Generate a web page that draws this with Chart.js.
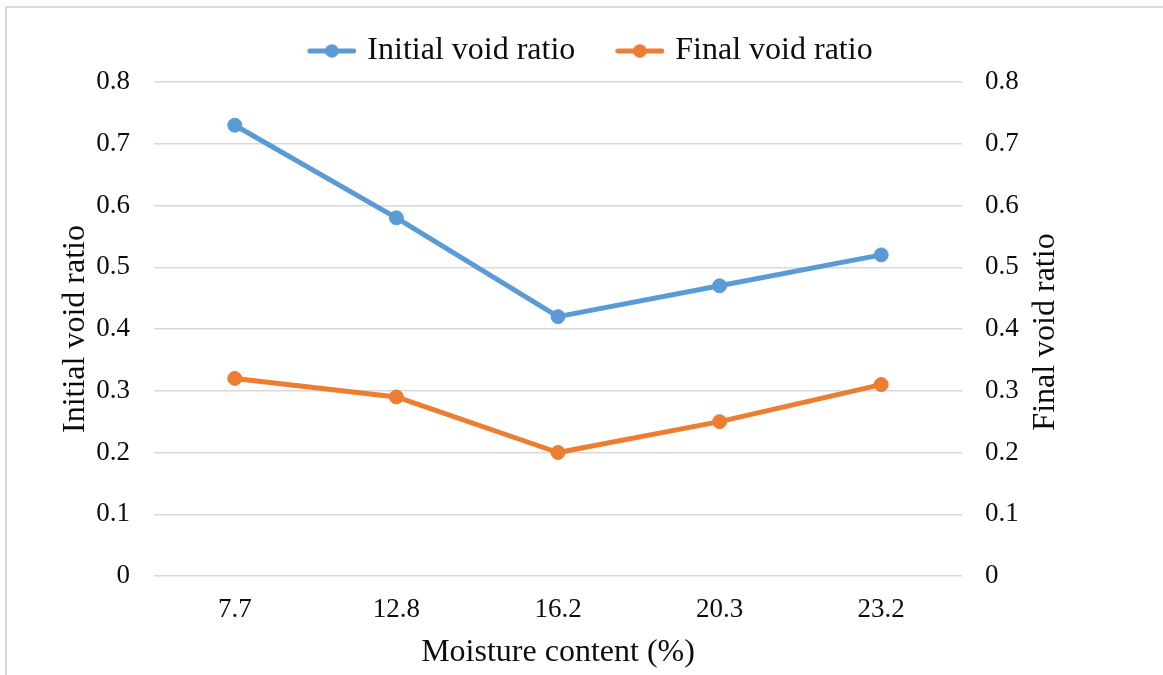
<!DOCTYPE html>
<html>
<head>
<meta charset="utf-8">
<script src="https://cdn.jsdelivr.net/npm/chart.js@4/dist/chart.umd.min.js"></script>
<style>
  html, body { margin: 0; padding: 0; background: #fff; overflow: hidden; }
  #frame { position: absolute; left: 5px; top: 6px; width: 1200px; height: 720px;
           border-left: 2px solid #d9d9d9; border-top: 2px solid #d9d9d9; }
  #wrap { position: absolute; left: 0; top: 0; width: 1163px; height: 675px; }
</style>
</head>
<body>
<div id="frame"></div>
<div id="wrap"><canvas id="chart" width="1163" height="675"></canvas></div>
<script>
// Moisture content categories (%)
const moistureContent = ['7.7', '12.8', '16.2', '20.3', '23.2'];
// Void ratios measured at each moisture content
const initialVoidRatio = [0.73, 0.58, 0.42, 0.47, 0.52];
const finalVoidRatio = [0.32, 0.29, 0.20, 0.25, 0.31];
// Labels shown on both value axes
const ratioTickLabels = ['0', '0.1', '0.2', '0.3', '0.4', '0.5', '0.6', '0.7', '0.8'];

const BLUE = '#5b9bd5';
const ORANGE = '#ed7d31';
const TEXT = '#0d0d0d';
const GRID = '#d9d9d9';
const SERIF = '"Liberation Serif", "Times New Roman", serif';

// Line-and-dot legend symbol
function legendMark(color) {
  const c = document.createElement('canvas');
  c.width = 94; c.height = 16;
  const g = c.getContext('2d');
  g.strokeStyle = color; g.fillStyle = color;
  g.lineWidth = 5; g.lineCap = 'round';
  g.beginPath(); g.moveTo(47.5, 8); g.lineTo(91.5, 8); g.stroke();
  g.beginPath(); g.arc(69.5, 8, 6.8, 0, Math.PI * 2); g.fill();
  return c;
}
const legendMarks = [legendMark(BLUE), legendMark(ORANGE)];

// Right-hand axis title, reading bottom to top
const rightAxisTitle = {
  id: 'rightAxisTitle',
  afterDraw(chart) {
    const s = chart.scales.y1;
    const area = chart.chartArea;
    const ctx = chart.ctx;
    ctx.save();
    ctx.translate(s.left + 84, (area.top + area.bottom) / 2 + 3);
    ctx.rotate(-Math.PI / 2);
    ctx.font = '32px ' + SERIF;
    ctx.fillStyle = TEXT;
    ctx.textAlign = 'center';
    ctx.textBaseline = 'middle';
    ctx.fillText('Final void ratio', 0, 0);
    ctx.restore();
  }
};

const lineStyle = (color) => ({
  borderColor: color,
  backgroundColor: color,
  pointBackgroundColor: color,
  pointBorderColor: color,
  borderWidth: 5,
  pointRadius: 7,
  pointBorderWidth: 1,
  pointHoverRadius: 7,
  borderCapStyle: 'round',
  borderJoinStyle: 'round',
  tension: 0,
  fill: false
});

new Chart(document.getElementById('chart'), {
  type: 'line',
  data: {
    labels: moistureContent,
    datasets: [
      Object.assign({ label: 'Initial void ratio', data: initialVoidRatio, yAxisID: 'y' }, lineStyle(BLUE)),
      Object.assign({ label: 'Final void ratio', data: finalVoidRatio, yAxisID: 'y1' }, lineStyle(ORANGE))
    ]
  },
  options: {
    responsive: false,
    animation: false,
    layout: { padding: { top: 35, left: 0, right: 23, bottom: 0 } },
    plugins: {
      tooltip: { enabled: false },
      // empty spacer between the legend and the plot area
      subtitle: { display: true, text: '', weight: 0, font: { size: 1, lineHeight: 1 },
                  padding: { top: 4, bottom: 0 } },
      legend: {
        position: 'top',
        align: 'center',
        labels: {
          usePointStyle: true,
          pointStyleWidth: 84,
          padding: 0,
          color: TEXT,
          font: { family: SERIF, size: 32 },
          generateLabels(chart) {
            const items = Chart.defaults.plugins.legend.labels.generateLabels(chart);
            items.forEach((it, i) => { it.pointStyle = legendMarks[i]; });
            return items;
          }
        }
      }
    },
    scales: {
      x: {
        offset: true,
        grid: { display: false, drawTicks: false },
        border: { display: false },
        ticks: { color: TEXT, font: { family: SERIF, size: 27 }, padding: 18, maxRotation: 0 },
        title: { display: true, text: 'Moisture content (%)', color: TEXT,
                 font: { family: SERIF, size: 32 }, padding: { top: 0, bottom: 3 } },
        afterFit(scale) { scale.height = 99; }
      },
      y: {
        position: 'left',
        min: 0, max: 0.8,
        ticks: { stepSize: 0.1, color: TEXT, font: { family: SERIF, size: 27 }, padding: 24,
                 callback: (v, i) => ratioTickLabels[i] },
        grid: { color: GRID, lineWidth: 1.5, drawTicks: false },
        border: { display: false },
        title: { display: true, text: 'Initial void ratio', color: TEXT,
                 font: { family: SERIF, size: 32 }, padding: { top: 56, bottom: 0 } },
        afterFit(scale) { scale.width = 154; }
      },
      y1: {
        position: 'right',
        min: 0, max: 0.8,
        ticks: { stepSize: 0.1, color: TEXT, font: { family: SERIF, size: 27 }, padding: 23,
                 callback: (v, i) => ratioTickLabels[i] },
        grid: { display: false, drawTicks: false },
        border: { display: false },
        title: { display: false },
        afterFit(scale) { scale.width = 178; }
      }
    }
  },
  plugins: [rightAxisTitle]
});
</script>
</body>
</html>
